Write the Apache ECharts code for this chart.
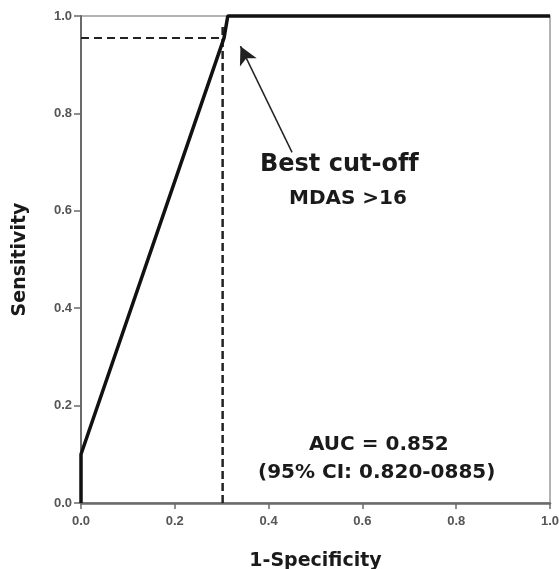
<!DOCTYPE html>
<html>
<head>
<meta charset="utf-8">
<script src="https://cdn.jsdelivr.net/npm/echarts@6/dist/echarts.min.js"></script>
<style>
  html, body { margin: 0; padding: 0; background: #fff; }
  #main { width: 559px; height: 569px; }
</style>
</head>
<body>
<div id="main"></div>
<script>
// ROC curve points (1-Specificity, Sensitivity)
var rocX = [0, 0, 0.305, 0.313, 1];
var rocY = [0, 0.1, 0.955, 1, 1];
// best cut-off guide lines
var cutX = 0.302;
var cutY = 0.955;
var cutTop = 0.98;
// arrow from label to cut-off point
var arrowFrom = [0.45, 0.72];
var arrowTo = [0.34, 0.938];
var ticks = [0, 0.2, 0.4, 0.6, 0.8, 1.0];

var rocData = rocX.map(function (x, i) { return [x, rocY[i]]; });

var myChart = echarts.init(document.getElementById('main'));

var tickLabel = {
    color: '#555',
    fontFamily: 'Liberation Sans',
    fontWeight: 'bold',
    fontSize: 13,
    formatter: function (v) { return v.toFixed(1); }
};
var annFont = 'DejaVu Sans';

var option = {
    animation: false,
    backgroundColor: '#fff',
    grid: {
        left: 81, right: 9, top: 16, bottom: 66,
        outerBoundsMode: 'none', containLabel: false,
        show: true, borderColor: '#9a9a9a', borderWidth: 1.5
    },
    xAxis: {
        type: 'value', min: ticks[0], max: ticks[ticks.length - 1], interval: 0.2,
        name: '1-Specificity', nameLocation: 'middle', nameGap: 49,
        nameTextStyle: { fontFamily: annFont, fontWeight: 'bold', fontSize: 19, color: '#1a1a1a' },
        axisLine: { lineStyle: { color: '#6a6a6a', width: 2.5 } },
        axisTick: { length: 6, lineStyle: { color: '#6a6a6a', width: 1.5 } },
        axisLabel: Object.assign({ margin: 12 }, tickLabel),
        splitLine: { show: false }
    },
    yAxis: {
        type: 'value', min: 0, max: 1, interval: 0.2,
        name: 'Sensitivity', nameLocation: 'middle', nameGap: 51,
        nameTextStyle: { fontFamily: annFont, fontWeight: 'bold', fontSize: 19, color: '#1a1a1a' },
        axisLine: { lineStyle: { color: '#6a6a6a', width: 2 } },
        axisTick: { length: 7, lineStyle: { color: '#6a6a6a', width: 1.5 } },
        axisLabel: Object.assign({ margin: 9 }, tickLabel),
        splitLine: { show: false }
    },
    series: [
        {
            // horizontal dashed guide
            type: 'line',
            data: [[0, cutY], [cutX, cutY]],
            symbol: 'none',
            lineStyle: { color: '#222', width: 2, type: [8, 5] },
            z: 3
        },
        {
            // vertical dashed guide
            type: 'line',
            data: [[cutX, 0], [cutX, cutTop]],
            symbol: 'none',
            lineStyle: { color: '#222', width: 2.5, type: [8, 4] },
            z: 3
        },
        {
            type: 'line',
            data: rocData,
            symbol: 'none',
            clip: false,
            lineStyle: { color: '#111', width: 3.5 },
            z: 5,
            markLine: {
                silent: true,
                symbol: ['none', 'arrow'],
                symbolSize: [14, 18],
                label: { show: false },
                lineStyle: { color: '#222', width: 1.5, type: 'solid' },
                data: [[{ coord: arrowFrom }, { coord: arrowTo }]]
            }
        }
    ],
    graphic: [
        {
            type: 'text', x: 260, y: 165,
            style: { text: 'Best cut-of\u200Cf', fill: '#1a1a1a', font: 'bold 24px "DejaVu Sans"',
                     textAlign: 'left', textVerticalAlign: 'middle', align: 'left', verticalAlign: 'middle' }
        },
        {
            type: 'text', x: 289, y: 198.5,
            style: { text: 'MDAS >16', fill: '#1a1a1a', font: 'bold 20px "DejaVu Sans"',
                     textAlign: 'left', textVerticalAlign: 'middle', align: 'left', verticalAlign: 'middle' }
        },
        {
            type: 'text', x: 309, y: 444.5,
            style: { text: 'AUC = 0.852', fill: '#1a1a1a', font: 'bold 20px "DejaVu Sans"',
                     textAlign: 'left', textVerticalAlign: 'middle', align: 'left', verticalAlign: 'middle' }
        },
        {
            type: 'text', x: 258, y: 473,
            style: { text: '(95% CI: 0.820-0885)', fill: '#1a1a1a', font: 'bold 20px "DejaVu Sans"',
                     textAlign: 'left', textVerticalAlign: 'middle', align: 'left', verticalAlign: 'middle' }
        }
    ]
};
myChart.setOption(option);
</script>
</body>
</html>
